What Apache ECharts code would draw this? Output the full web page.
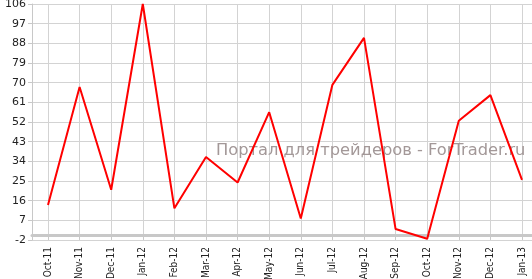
<!DOCTYPE html>
<html>
<head>
<meta charset="utf-8">
<script src="https://cdn.jsdelivr.net/npm/echarts@6/dist/echarts.min.js"></script>
<style>html,body{margin:0;padding:0;background:#fff;}#c{width:532px;height:279px;}</style>
</head>
<body>
<div id="c"></div>
<script>
var categories = ['Oct-11','Nov-11','Dec-11','Jan-12','Feb-12','Mar-12','Apr-12','May-12','Jun-12','Jul-12','Aug-12','Sep-12','Oct-12','Nov-12','Dec-12','Jan-13'];
var values = [14, 68, 21, 106, 12.5, 36, 24.3, 56.5, 7.8, 69, 90.5, 3, -1.4, 52.6, 64.3, 25.5];
var yMin = -2, yMax = 106, yStep = 9;
var watermark = 'Портал для трейдеров - ForTrader.ru';

var chart = echarts.init(document.getElementById('c'), null, {renderer: 'canvas'});
var font = 'Verdana, "DejaVu Sans", sans-serif';
chart.setOption({
  animation: false,
  backgroundColor: '#fff',
  title: {
    text: watermark, left: 216, top: 143, z: 0, padding: 0,
    textStyle: {color: '#a39898', fontSize: 16.3, fontWeight: 'normal', fontFamily: font}
  },
  grid: [
    {left: 48, right: 10, top: 4, bottom: 39, containLabel: false, outerBoundsMode: 'none'},
    {left: 32, right: 0, top: 4, bottom: 39, containLabel: false, outerBoundsMode: 'none'}
  ],
  xAxis: [
    {
      type: 'category', gridIndex: 0, data: categories, boundaryGap: false,
      axisLine: {show: false},
      axisTick: {show: true, length: 4, lineStyle: {color: '#c8c8c8', width: 1}},
      axisLabel: {rotate: 90, interval: 0, margin: 7, color: '#222', fontSize: 10, fontFamily: '"DejaVu Sans Condensed", "DejaVu Sans", sans-serif'},
      splitLine: {show: true, lineStyle: {color: '#d3d3d3', width: 1}}
    },
    {
      type: 'value', gridIndex: 1, min: 0, max: 1, show: true,
      axisLine: {show: true, lineStyle: {color: '#c8c8c8', width: 3}},
      axisTick: {show: false}, axisLabel: {show: false}, splitLine: {show: false}
    }
  ],
  yAxis: [
    {type: 'value', gridIndex: 0, min: yMin, max: yMax, interval: yStep, show: false},
    {
      type: 'value', gridIndex: 1, min: yMin, max: yMax, interval: yStep,
      axisLine: {show: true, lineStyle: {color: '#c8c8c8', width: 1}},
      axisTick: {show: true, length: 4, lineStyle: {color: '#c8c8c8'}},
      axisLabel: {color: '#222', fontSize: 11, fontFamily: font, margin: 6},
      splitLine: {show: true, lineStyle: {color: '#d3d3d3', width: 1}}
    }
  ],
  series: [{
    type: 'line', xAxisIndex: 0, yAxisIndex: 0, data: values,
    symbol: 'none', z: 10,
    lineStyle: {color: '#ff0000', width: 2}
  }]
});
</script>
</body>
</html>
